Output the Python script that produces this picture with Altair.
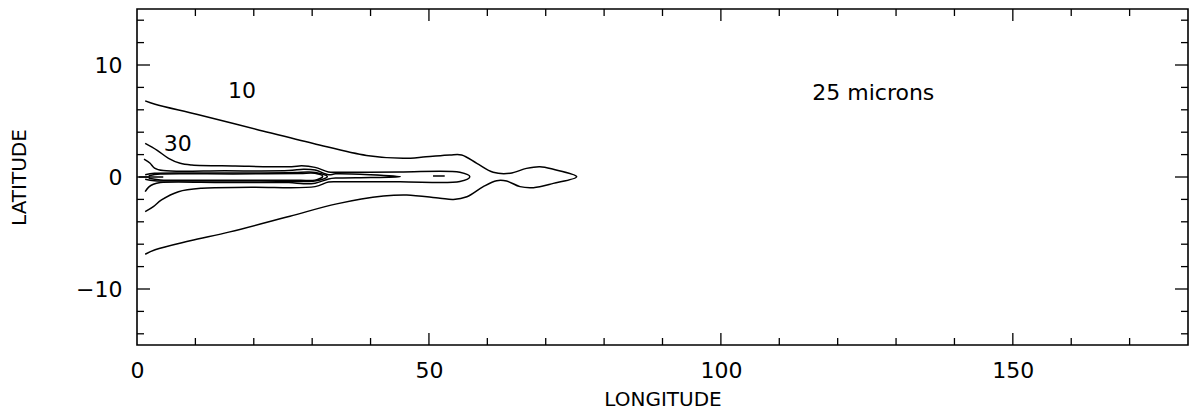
import altair as alt
import pandas as pd

# ---- contour data (longitude, latitude) ----
c10_lon = [1.4, 3.1, 10.2, 20.5, 30.2, 39.3, 45.6, 49.5, 53.6, 55.6, 58.2, 61.0, 63.9, 66.7, 69.0, 71.3, 75.3,
           71.3, 67.9, 65.6, 63.3, 61.6, 59.3, 56.5, 54.2, 51.9, 46.2, 42.2, 34.2, 26.2, 15.9, 9.1, 3.1, 1.4]
c10_lat = [6.8, 6.5, 5.6, 4.25, 3.0, 1.93, 1.67, 1.8, 1.96, 1.96, 1.22, 0.42, 0.33, 0.77, 0.92, 0.69, 0.03,
           -0.57, -0.95, -0.86, -0.36, -0.33, -0.86, -1.76, -2.0, -1.9, -1.6, -1.7, -2.4, -3.5, -4.9, -5.7, -6.5, -6.9]

c30_lon = [1.4, 3.4, 5.4, 7.4, 9.4, 16.8, 26.5, 28.2, 30.5, 32.8, 34.5, 45.0, 55.3, 57.0,
           55.3, 45.0, 34.5, 32.8, 30.5, 19.6, 11.1, 7.1, 4.2, 2.8, 1.4]
c30_lat = [3.0, 2.4, 1.67, 1.22, 1.07, 0.98, 0.92, 1.0, 0.86, 0.45, 0.42, 0.45, 0.42, 0.03,
           -0.4, -0.42, -0.42, -0.45, -0.86, -0.92, -1.0, -1.31, -2.05, -2.65, -3.1]

c100_lon = [1.2, 2.2, 3.0, 4.5, 15.0, 26.0, 28.5, 30.5, 32.8, 34.0, 40.0, 45.1,
            40.0, 34.0, 32.8, 30.5, 28.5, 26.0, 15.0, 4.0, 2.8, 2.0, 1.4]
c100_lat = [1.6, 1.25, 0.8, 0.57, 0.55, 0.57, 0.69, 0.62, 0.2, 0.28, 0.2, 0.03,
            -0.05, -0.1, -0.18, -0.55, -0.6, -0.5, -0.5, -0.5, -0.65, -0.9, -1.3]

c300_lon = [1.4, 3.0, 10.0, 20.0, 27.0, 29.5, 31.5, 32.6, 31.5, 29.5, 27.0, 20.0, 10.0, 3.0, 1.4]
c300_lat = [0.2, 0.33, 0.36, 0.36, 0.4, 0.45, 0.3, 0.05, -0.25, -0.4, -0.4, -0.36, -0.36, -0.33, -0.2]

c1000_lon = [2.0, 4.0, 12.0, 22.0, 28.0, 30.5, 31.8, 30.5, 28.0, 22.0, 12.0, 4.0, 2.0]
c1000_lat = [0.12, 0.26, 0.28, 0.28, 0.32, 0.33, 0.05, -0.28, -0.3, -0.28, -0.28, -0.26, -0.12]

cedge_lon = [0.3, 4.5]
cedge_lat = [0.0, 0.0]

cdash_lon = [50.7, 52.7]
cdash_lat = [0.09, 0.09]

# ---- labels ----
label_text = ["10", "30", "25 microns"]
label_lon = [18.0, 7.0, 126.1]
label_lat = [7.7, 2.93, 7.5]

# ---- axis ticks ----
x_label_values = [0, 50, 100, 150]
y_label_values = [-10, 0, 10]
x_minor_ticks = [10, 20, 30, 40, 60, 70, 80, 90, 110, 120, 130, 140, 160, 170]
x_major_ticks = [50, 100, 150]
y_minor_ticks = [-14, -12, -8, -6, -4, -2, 2, 4, 6, 8, 12, 14]
y_major_ticks = [-10, 0, 10]

W, H = 1051, 336
FONT = "DejaVu Sans"

rows = []
for name, lons, lats in [("10", c10_lon, c10_lat), ("30", c30_lon, c30_lat),
                         ("100", c100_lon, c100_lat), ("300", c300_lon, c300_lat),
                         ("1000", c1000_lon, c1000_lat), ("edge", cedge_lon, cedge_lat),
                         ("dash", cdash_lon, cdash_lat)]:
    for i, (lo, la) in enumerate(zip(lons, lats)):
        rows.append({"contour": name, "seq": i, "lon": lo, "lat": la})
contours = pd.DataFrame(rows)
labels = pd.DataFrame({"text": label_text, "lon": label_lon, "lat": label_lat})

xs = alt.Scale(domain=[0, 180], nice=False, zero=False)
ys = alt.Scale(domain=[-15, 15], nice=False, zero=False)

x_axis = alt.Axis(
    values=x_label_values, ticks=False, domain=False, grid=False,
    labelFont=FONT, labelFontSize=22, labelColor="black", labelPadding=32,
    labelBaseline="alphabetic", labelFlush=False,
    title="LONGITUDE", titleFont=FONT, titleFontSize=20, titleFontWeight="normal",
    titleColor="black", titleY=60, titleBaseline="alphabetic")
y_axis = alt.Axis(
    values=y_label_values, ticks=False, domain=False, grid=False,
    labelFont=FONT, labelFontSize=22, labelColor="black", labelPadding=15,
    labelFlush=False,
    title="LATITUDE", titleFont=FONT, titleFontSize=20, titleFontWeight="normal",
    titleColor="black", titleX=-112, titleY=H / 2, titleAngle=270,
    titleBaseline="alphabetic", titleAlign="center")

lines = alt.Chart(contours).mark_line(color="black", strokeWidth=1.5, strokeJoin="round",
                                      interpolate="catmull-rom").encode(
    x=alt.X("lon:Q", scale=xs, axis=x_axis),
    y=alt.Y("lat:Q", scale=ys, axis=y_axis),
    detail="contour:N",
    order="seq:Q",
)

texts = alt.Chart(labels).mark_text(font=FONT, fontSize=22, color="black",
                                     align="center", baseline="middle").encode(
    x=alt.X("lon:Q", scale=xs, axis=x_axis),
    y=alt.Y("lat:Q", scale=ys, axis=y_axis),
    text="text:N",
)


def xticks(vals, length):
    d = pd.DataFrame({"v": vals})
    base = alt.Chart(d).mark_rule(color="black", strokeWidth=1.3)
    bottom = base.encode(x=alt.X("v:Q", scale=xs, axis=x_axis),
                         y=alt.value(H), y2=alt.value(H - length))
    top = base.encode(x=alt.X("v:Q", scale=xs, axis=x_axis),
                      y=alt.value(0), y2=alt.value(length))
    return [bottom, top]


def yticks(vals, length):
    d = pd.DataFrame({"v": vals})
    base = alt.Chart(d).mark_rule(color="black", strokeWidth=1.3)
    left = base.encode(y=alt.Y("v:Q", scale=ys, axis=y_axis),
                       x=alt.value(0), x2=alt.value(length))
    right = base.encode(y=alt.Y("v:Q", scale=ys, axis=y_axis),
                        x=alt.value(W), x2=alt.value(W - length))
    return [left, right]


layers = [lines, texts] + xticks(x_minor_ticks, 7) + xticks(x_major_ticks, 12) \
    + yticks(y_minor_ticks, 7) + yticks(y_major_ticks, 13)

chart = alt.layer(*layers).properties(
    width=W, height=H,
    autosize=alt.AutoSizeParams(type="none"),
    padding={"left": 129, "top": 1, "right": 4, "bottom": 70},
    background="white",
).configure_view(stroke="black", strokeWidth=1.6)

chart.save("out.html", embed_options={"renderer": "svg", "actions": False})
